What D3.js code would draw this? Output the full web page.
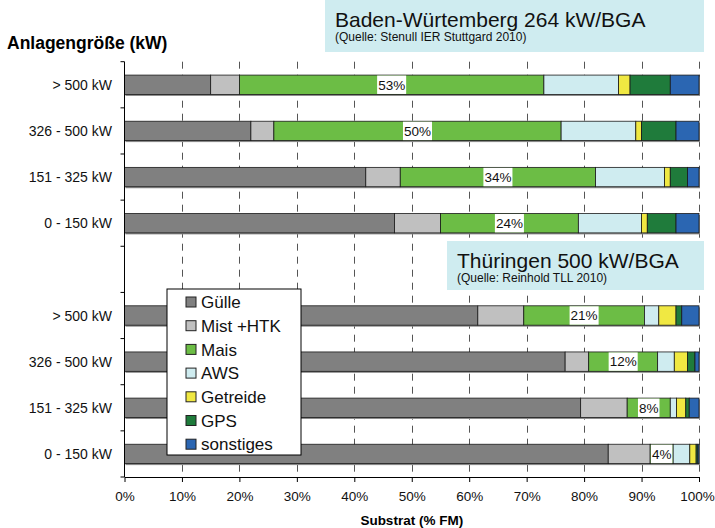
<!DOCTYPE html>
<html>
<head>
<meta charset="utf-8">
<script src="https://cdn.jsdelivr.net/npm/d3@7"></script>
<style>
  body { margin: 0; background: #fff; }
  svg { display: block; font-family: Arial, "Liberation Sans", sans-serif; }
</style>
</head>
<body>
<svg id="chart"></svg>
<script>
// size classes (rows, same order in both groups)
var categories = ['> 500 kW', '326 - 500 kW', '151 - 325 kW', '0 - 150 kW'];
var substrates = ['Gülle', 'Mist +HTK', 'Mais', 'AWS', 'Getreide', 'GPS', 'sonstiges'];

// share of fresh mass (%) per substrate, Baden-Württemberg
var bwShares = [
  [15, 5, 53, 13, 2, 7, 5],
  [22, 4, 50, 13, 1, 6, 4],
  [42, 6, 34, 12, 1, 3, 2],
  [47, 8, 24, 11, 1, 5, 4]
];
// Thüringen
var thShares = [
  [61.5, 8, 21, 2.5, 3, 1, 3],
  [76.7, 4.1, 12, 2.9, 2.3, 1.3, 0.7],
  [79.4, 8.1, 7.5, 1.1, 1.6, 0.6, 1.7],
  [84.2, 7.3, 4, 2.9, 1.1, 0.3, 0.2]
];
var xTicks = [0, 10, 20, 30, 40, 50, 60, 70, 80, 90, 100];

var colors = ['#808080', '#c0c0c0', '#6cbd45', '#cfecf0', '#f0e842', '#1f7b3b', '#2b66b2'];

var width = 715;
var height = 528;
var plot = {left: 124.5, right: 699, top: 61.7, bottom: 477};

var svg = d3.select('#chart')
  .attr('width', width)
  .attr('height', height);

// row keys: 4 BW rows, an empty row, 4 TH rows
var rowKeys = categories.map(function(c, i) { return 'bw' + i; })
  .concat(['gap'])
  .concat(categories.map(function(c, i) { return 'th' + i; }));

var table = [];
bwShares.forEach(function(v, i) {
  var r = {row: 'bw' + i, label: categories[i]};
  substrates.forEach(function(s, j) { r[s] = v[j]; });
  table.push(r);
});
thShares.forEach(function(v, i) {
  var r = {row: 'th' + i, label: categories[i]};
  substrates.forEach(function(s, j) { r[s] = v[j]; });
  table.push(r);
});

var x = d3.scaleLinear()
  .domain([0, 100])
  .range([plot.left, plot.right]);

var y = d3.scaleBand()
  .domain(rowKeys)
  .range([plot.top, plot.bottom])
  .paddingInner(0.58)
  .paddingOuter(0.29);

var z = d3.scaleOrdinal()
  .domain(substrates)
  .range(colors);

var series = d3.stack().keys(substrates)(table);

// dashed grid lines
svg.append('g')
  .selectAll('line')
  .data(xTicks.slice(1))
  .join('line')
    .attr('x1', function(d) { return Math.round(x(d)) + 0.5; })
    .attr('x2', function(d) { return Math.round(x(d)) + 0.5; })
    .attr('y1', plot.top)
    .attr('y2', plot.bottom)
    .attr('stroke', '#555')
    .attr('stroke-width', 1)
    .attr('stroke-dasharray', '7,6');

// bar shadows
svg.append('g')
  .selectAll('rect')
  .data(table)
  .join('rect')
    .attr('x', x(0) + 1)
    .attr('y', function(d) { return y(d.row) + 1.5; })
    .attr('width', x(100) - x(0))
    .attr('height', y.bandwidth())
    .attr('fill', '#8a8a8a');

// stacked segments
svg.append('g')
  .selectAll('g')
  .data(series)
  .join('g')
    .attr('fill', function(d) { return z(d.key); })
  .selectAll('rect')
  .data(function(d) { return d; })
  .join('rect')
    .attr('x', function(d) { return x(d[0]); })
    .attr('y', function(d) { return y(d.data.row); })
    .attr('width', function(d) { return x(d[1]) - x(d[0]); })
    .attr('height', y.bandwidth())
    .attr('stroke', '#1a1a1a')
    .attr('stroke-width', 0.8);

// Mais share labels with white background
var mais = series[substrates.indexOf('Mais')];
var lab = svg.append('g')
  .selectAll('g')
  .data(mais)
  .join('g')
    .attr('transform', function(d) {
      return 'translate(' + x((d[0] + d[1]) / 2) + ',' + y(d.data.row) + ')';
    });
lab.append('text')
  .attr('y', y.bandwidth() / 2)
  .attr('dy', '0.36em')
  .attr('text-anchor', 'middle')
  .attr('font-size', 13.5)
  .attr('fill', '#111')
  .text(function(d) { return Math.round(d.data.Mais) + '%'; });
lab.each(function() {
  var t = d3.select(this).select('text');
  var w = t.node().getComputedTextLength() + 2;
  d3.select(this).insert('rect', 'text')
    .attr('x', -w / 2)
    .attr('y', 0.5)
    .attr('width', w)
    .attr('height', y.bandwidth() - 1)
    .attr('fill', '#fff');
});

// y axis line and band ticks
svg.append('line')
  .attr('x1', plot.left).attr('x2', plot.left)
  .attr('y1', plot.top).attr('y2', plot.bottom)
  .attr('stroke', '#000');
var bounds = rowKeys.map(function(k) { return y(k) - (y.step() - y.bandwidth()) / 2; })
  .concat([plot.bottom]);
svg.append('g')
  .selectAll('line')
  .data(bounds)
  .join('line')
    .attr('x1', plot.left - 4).attr('x2', plot.left)
    .attr('y1', function(d) { return d; }).attr('y2', function(d) { return d; })
    .attr('stroke', '#000');

// category labels
svg.append('g')
  .selectAll('text')
  .data(table)
  .join('text')
    .attr('x', 112)
    .attr('y', function(d) { return y(d.row) + y.bandwidth() / 2; })
    .attr('dy', '0.36em')
    .attr('text-anchor', 'end')
    .attr('font-size', 14)
    .attr('fill', '#111')
    .text(function(d) { return d.label; });

// x axis
var xAxis = svg.append('g')
  .attr('transform', 'translate(0,' + plot.bottom + ')')
  .call(d3.axisBottom(x)
    .tickValues(xTicks)
    .tickFormat(function(d) { return d + '%'; })
    .tickSize(5)
    .tickSizeOuter(0)
    .tickPadding(9));
xAxis.selectAll('text')
  .attr('font-size', 13.5)
  .attr('font-family', 'Arial, "Liberation Sans", sans-serif')
  .attr('fill', '#111');
// keep "100%" inside the picture
xAxis.selectAll('.tick text')
  .filter(function(d) { return d === 100; })
  .attr('dx', -2);
xAxis.select('.domain').attr('stroke', '#000');

svg.append('text')
  .attr('x', (plot.left + plot.right) / 2)
  .attr('y', 525)
  .attr('text-anchor', 'middle')
  .attr('font-size', 13.5)
  .attr('font-weight', 'bold')
  .text('Substrat (% FM)');

svg.append('text')
  .attr('x', 7)
  .attr('y', 49)
  .attr('font-size', 17.5)
  .attr('font-weight', 'bold')
  .text('Anlagengröße (kW)');

// title boxes
function titleBox(bx, by, bw, bh, title, source) {
  var g = svg.append('g').attr('transform', 'translate(' + bx + ',' + by + ')');
  g.append('rect')
    .attr('width', bw).attr('height', bh)
    .attr('fill', '#cfecf0');
  g.append('text')
    .attr('x', 10).attr('y', 27)
    .attr('font-size', 21)
    .attr('fill', '#111')
    .text(title);
  g.append('text')
    .attr('x', 10).attr('y', 41)
    .attr('font-size', 12)
    .attr('fill', '#111')
    .text(source);
}
titleBox(325, 0, 379, 52, 'Baden-Würtemberg 264 kW/BGA', '(Quelle: Stenull IER Stuttgard 2010)');
titleBox(447, 241, 257, 49, 'Thüringen 500 kW/BGA', '(Quelle: Reinhold TLL  2010)');

// legend
var legend = svg.append('g').attr('transform', 'translate(167,289)');
legend.append('rect')
  .attr('width', 134).attr('height', 166)
  .attr('fill', '#fff')
  .attr('stroke', '#000');
var item = legend.selectAll('g')
  .data(substrates)
  .join('g')
    .attr('transform', function(d, i) { return 'translate(19,' + (13 + i * 23.7) + ')'; });
item.append('rect')
  .attr('y', -5).attr('width', 10).attr('height', 10)
  .attr('fill', z)
  .attr('stroke', '#222');
item.append('text')
  .attr('x', 15)
  .attr('dy', '0.36em')
  .attr('font-size', 17)
  .attr('fill', '#111')
  .text(function(d) { return d; });
</script>
</body>
</html>
